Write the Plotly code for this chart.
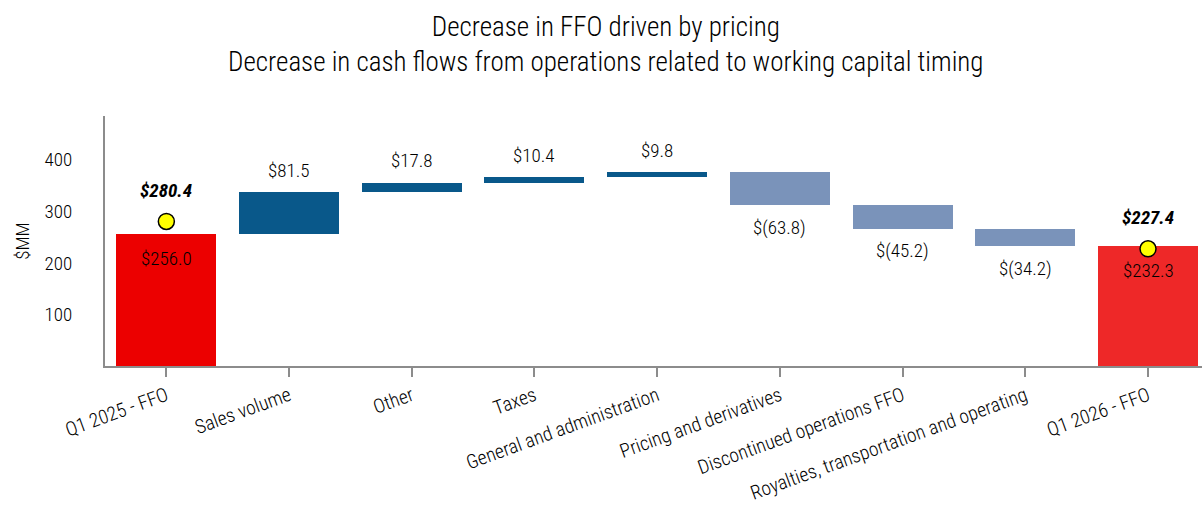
import plotly.graph_objects as go

categories = ["Q1 2025 - FFO", "Sales volume", "Other", "Taxes", "General and administration",
              "Pricing and derivatives", "Discontinued operations FFO",
              "Royalties, transportation and operating", "Q1 2026 - FFO"]
start_value = 256.0
changes = [81.5, 17.8, 10.4, 9.8, -63.8, -45.2, -34.2]
end_value = 232.3
cfo_values = [280.4, 227.4]
cfo_positions = [0, 8]

FONT = "Roboto Condensed, Liberation Sans Narrow, Arial Narrow, sans-serif"
W = 300
C_START = "#EC0000"
C_END = "#EE2828"
C_UP = "#09588A"
C_DOWN = "#7A93BA"

# build bars
ys, bases, colors, labels = [], [], [], []
ys.append(start_value); bases.append(0); colors.append(C_START); labels.append(f"${start_value:.1f}")
running = start_value
for c in changes:
    ys.append(c); bases.append(running)
    colors.append(C_UP if c >= 0 else C_DOWN)
    labels.append(f"${c:.1f}" if c >= 0 else f"$({abs(c):.1f})")
    running += c
ys.append(end_value); bases.append(0); colors.append(C_END); labels.append(f"${end_value:.1f}")

x_idx = list(range(len(categories)))

fig = go.Figure()
fig.add_trace(go.Bar(x=x_idx, y=ys, base=bases, marker=dict(color=colors, line=dict(width=0)),
                     width=0.815, showlegend=False, hoverinfo="skip"))
fig.add_trace(go.Scatter(x=cfo_positions, y=cfo_values, mode="markers",
                         marker=dict(color="#FFFF00", size=16, line=dict(color="black", width=1.5)),
                         showlegend=False, hoverinfo="skip"))

annotations = []
for i, (y, b, lab) in enumerate(zip(ys, bases, labels)):
    if i == 0 or i == len(ys) - 1:
        ay, shift = b + y, -24
    elif y >= 0:
        ay, shift = b + y, 22
    else:
        ay, shift = b + y, -22
    annotations.append(dict(x=i, y=ay, text=lab, showarrow=False, yshift=shift,
                            yanchor="middle", font=dict(family=FONT, size=19, color="black", weight=W)))
for p, v in zip(cfo_positions, cfo_values):
    annotations.append(dict(x=p, y=v, text=f"<b><i>${v:.1f}</i></b>", showarrow=False, yshift=31,
                            yanchor="middle", font=dict(family=FONT, size=19, color="black")))

fig.update_layout(
    width=1202, height=505,
    margin=dict(l=105, r=0, t=116, b=139),
    paper_bgcolor="white", plot_bgcolor="white",
    font=dict(family=FONT, size=18, color="black", weight=W),
    title=dict(text="Decrease in FFO driven by pricing<br>Decrease in cash flows from operations related to working capital timing",
               x=0.504, xanchor="center", y=0.929, yanchor="top",
               font=dict(family=FONT, size=27, color="black", weight=W)),
    annotations=annotations,
    bargap=0,
)
fig.update_xaxes(range=[-0.5, 8.44], tickvals=x_idx, ticktext=categories, tickangle=-20,
                 showline=True, linecolor="#8C8C8C", linewidth=2, ticks="outside",
                 tickcolor="#8C8C8C", ticklen=9, tickwidth=2, showgrid=False, zeroline=False,
                 automargin=False,
                 tickfont=dict(family=FONT, size=19.5, color="black", weight=W))
fig.update_yaxes(range=[0, 485], tickvals=[100, 200, 300, 400], showline=True, linecolor="#8C8C8C",
                 linewidth=2, showgrid=False, zeroline=False, ticks="", ticklabelstandoff=27,
                 automargin=False,
                 tickfont=dict(family=FONT, size=19, color="black", weight=W),
                 title=dict(text="$MM", font=dict(family=FONT, size=19, color="black", weight=W), standoff=10))

fig.write_html("out.html", config={"displayModeBar": False},
               post_script="document.body.style.margin='0';document.body.style.overflow='hidden';")
